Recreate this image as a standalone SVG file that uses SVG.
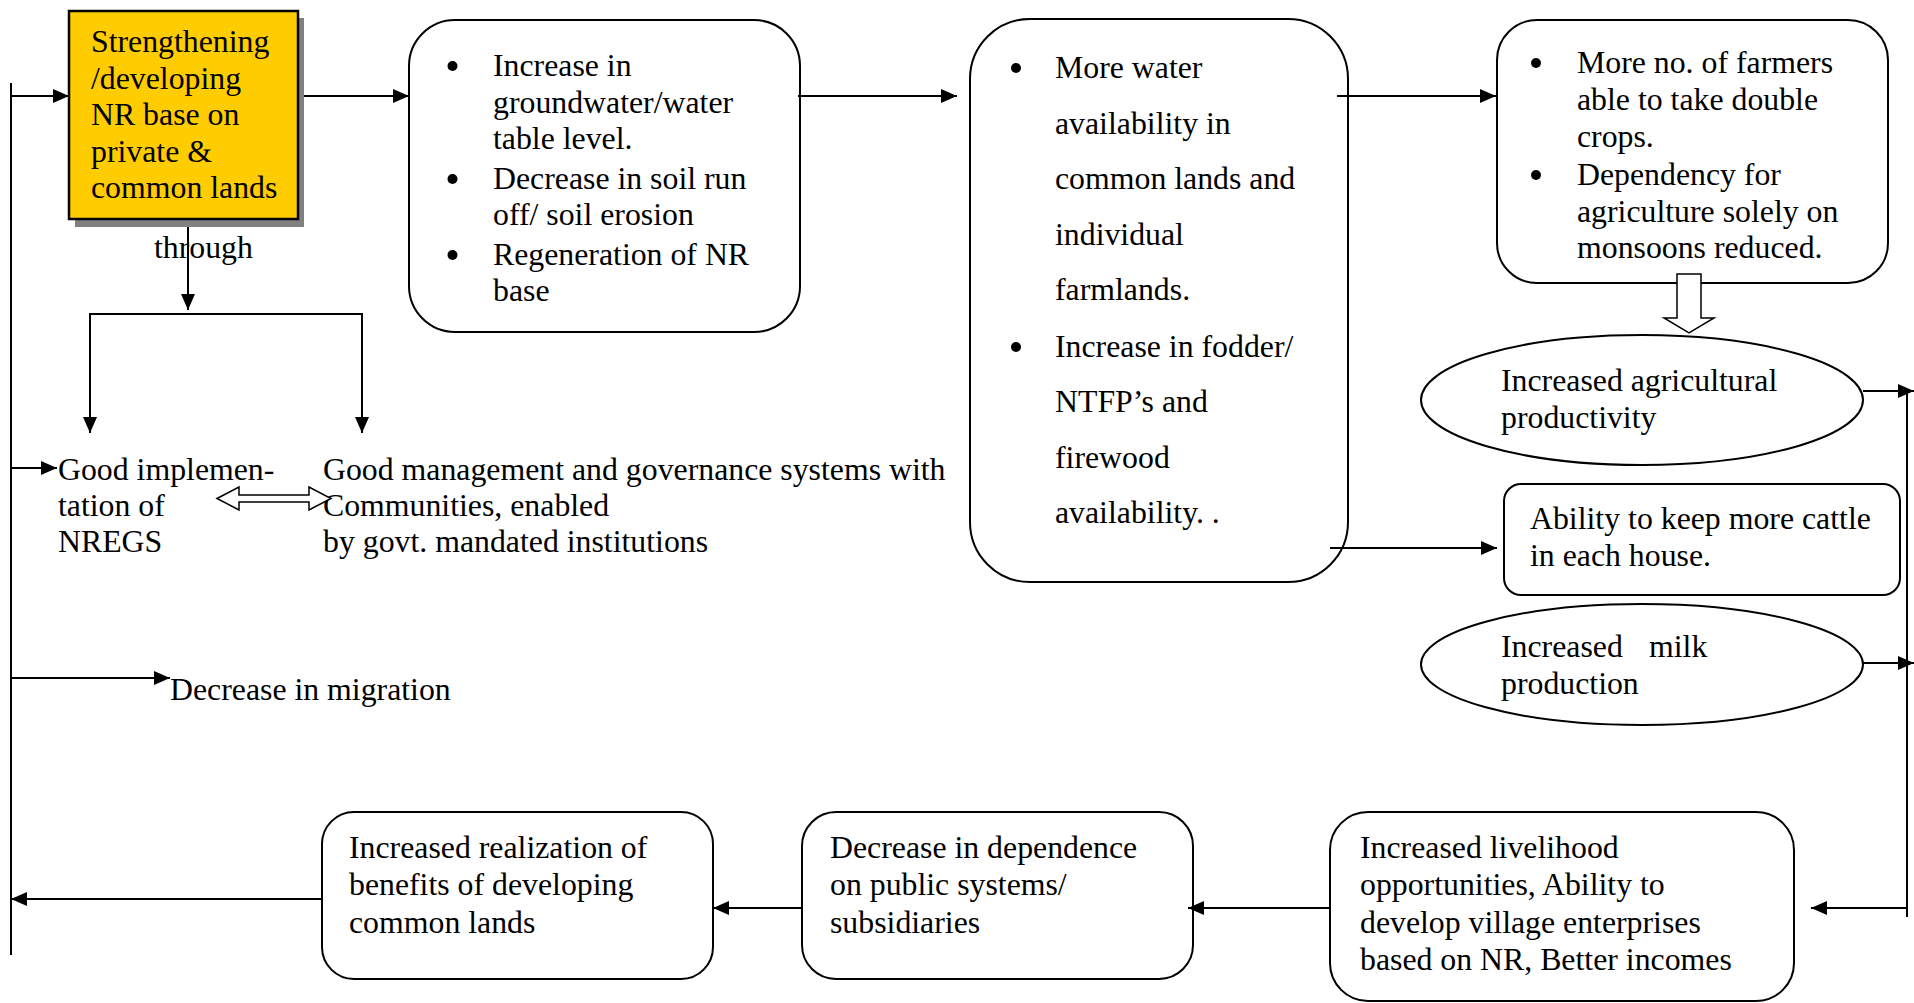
<svg xmlns="http://www.w3.org/2000/svg" width="1914" height="1003" viewBox="0 0 1914 1003">
<style>
text{font-family:"Liberation Serif","Times New Roman",serif;font-size:31.8px;fill:#000}
.box{fill:#fff;stroke:#000;stroke-width:2}
.ln{fill:none;stroke:#000;stroke-width:2}
.bul{fill:#000}
</style>
<defs>
<marker id="ah" markerUnits="userSpaceOnUse" markerWidth="16" markerHeight="14" refX="16" refY="7" orient="auto">
<path d="M0,0 L16,7 L0,14 z" fill="#000"/>
</marker>
</defs>
<rect width="1914" height="1003" fill="#fff"/>

<g id="node-strengthening">
<rect x="75" y="18" width="229" height="209" fill="#808080"/>
<rect x="69" y="11" width="229" height="208" fill="#FFCC00" stroke="#000" stroke-width="2.5"/>
<text x="91"><tspan x="91" y="52">Strengthening</tspan><tspan x="91" y="88.5">/developing</tspan><tspan x="91" y="125">NR base on</tspan><tspan x="91" y="161.5">private &amp;</tspan><tspan x="91" y="198">common lands</tspan></text>
</g>

<g id="label-through">
<text x="154" y="258">through</text>
</g>

<g id="node-groundwater">
<rect class="box" x="409" y="20" width="391" height="312" rx="46" ry="46"/>
<circle class="bul" cx="452.5" cy="66" r="5"/>
<circle class="bul" cx="452.5" cy="179" r="5"/>
<circle class="bul" cx="452.5" cy="255" r="5"/>
<text><tspan x="493" y="76">Increase in</tspan><tspan x="493" y="113">groundwater/water</tspan><tspan x="493" y="149">table level.</tspan><tspan x="493" y="189">Decrease in soil run</tspan><tspan x="493" y="225">off/ soil erosion</tspan><tspan x="493" y="265">Regeneration of NR</tspan><tspan x="493" y="301">base</tspan></text>
</g>

<g id="node-water">
<rect class="box" x="970" y="19" width="378" height="563" rx="60" ry="60"/>
<circle class="bul" cx="1016" cy="68" r="5"/>
<circle class="bul" cx="1016" cy="347" r="5"/>
<text><tspan x="1055" y="78">More water</tspan><tspan x="1055" y="134">availability in</tspan><tspan x="1055" y="189">common lands and</tspan><tspan x="1055" y="245">individual</tspan><tspan x="1055" y="300">farmlands.</tspan><tspan x="1055" y="357">Increase in fodder/</tspan><tspan x="1055" y="412">NTFP’s and</tspan><tspan x="1055" y="468">firewood</tspan><tspan x="1055" y="523">availability. .</tspan></text>
</g>

<g id="node-farmers">
<rect class="box" x="1497" y="20" width="391" height="263" rx="40" ry="40"/>
<circle class="bul" cx="1536" cy="63" r="5"/>
<circle class="bul" cx="1536" cy="175" r="5"/>
<text><tspan x="1577" y="73">More no. of farmers</tspan><tspan x="1577" y="110">able to take double</tspan><tspan x="1577" y="147">crops.</tspan><tspan x="1577" y="185">Dependency for</tspan><tspan x="1577" y="222">agriculture solely on</tspan><tspan x="1577" y="258">monsoons reduced.</tspan></text>
</g>

<g id="node-agri">
<ellipse class="box" cx="1642" cy="400" rx="221" ry="65"/>
<text><tspan x="1501" y="391">Increased agricultural</tspan><tspan x="1501" y="428">productivity</tspan></text>
</g>

<g id="node-cattle">
<rect class="box" x="1504" y="484" width="396" height="111" rx="17" ry="17"/>
<text><tspan x="1530" y="529">Ability to keep more cattle</tspan><tspan x="1530" y="566">in each house.</tspan></text>
</g>

<g id="node-milk">
<ellipse class="box" cx="1642" cy="664.5" rx="221" ry="60.5"/>
<text><tspan x="1501" y="657">Increased</tspan><tspan x="1649" y="657">milk</tspan><tspan x="1501" y="694">production</tspan></text>
</g>

<g id="node-implementation">
<text><tspan x="58" y="480">Good implemen-</tspan><tspan x="58" y="516">tation of</tspan><tspan x="58" y="552">NREGS</tspan></text>
</g>

<g id="node-management">
<text><tspan x="323" y="480">Good management and governance systems with</tspan><tspan x="323" y="516">Communities, enabled</tspan><tspan x="323" y="552">by govt. mandated institutions</tspan></text>
</g>

<g id="node-migration">
<text x="170" y="700">Decrease in migration</text>
</g>

<g id="node-livelihood">
<rect class="box" x="1330" y="812" width="464" height="189" rx="38" ry="38"/>
<text><tspan x="1360" y="858">Increased livelihood</tspan><tspan x="1360" y="895">opportunities, Ability to</tspan><tspan x="1360" y="933">develop village enterprises</tspan><tspan x="1360" y="970">based on NR, Better incomes</tspan></text>
</g>

<g id="node-dependence">
<rect class="box" x="802" y="812" width="391" height="167" rx="34" ry="34"/>
<text><tspan x="830" y="858">Decrease in dependence</tspan><tspan x="830" y="895">on public systems/</tspan><tspan x="830" y="933">subsidiaries</tspan></text>
</g>

<g id="node-realization">
<rect class="box" x="322" y="812" width="391" height="167" rx="32" ry="32"/>
<text><tspan x="349" y="858">Increased realization of</tspan><tspan x="349" y="895">benefits of developing</tspan><tspan x="349" y="933">common lands</tspan></text>
</g>

<g id="connectors">
<line class="ln" x1="11" y1="83" x2="11" y2="955"/>
<line class="ln" x1="11" y1="96" x2="69" y2="96" marker-end="url(#ah)"/>
<line class="ln" x1="304" y1="96" x2="409" y2="96" marker-end="url(#ah)"/>
<line class="ln" x1="798" y1="96" x2="957" y2="96" marker-end="url(#ah)"/>
<line class="ln" x1="1337" y1="96" x2="1496" y2="96" marker-end="url(#ah)"/>
<line class="ln" x1="1330" y1="548" x2="1497" y2="548" marker-end="url(#ah)"/>
<line class="ln" x1="188" y1="227" x2="188" y2="310" marker-end="url(#ah)"/>
<polyline class="ln" points="90,420 90,314 362,314 362,420"/>
<line class="ln" x1="90" y1="320" x2="90" y2="433" marker-end="url(#ah)"/>
<line class="ln" x1="362" y1="320" x2="362" y2="433" marker-end="url(#ah)"/>
<line class="ln" x1="11" y1="468" x2="57" y2="468" marker-end="url(#ah)"/>
<line class="ln" x1="11" y1="678" x2="170" y2="678" marker-end="url(#ah)"/>
<polygon points="217,498.5 239,487 239,495 309,495 309,487 331,498.5 309,510 309,502 239,502 239,510" fill="#fff" stroke="#000" stroke-width="1.5"/>
<polygon points="1677,274 1701,274 1701,318 1714,318 1689,333 1664,318 1677,318" fill="#fff" stroke="#000" stroke-width="1.5"/>
<line class="ln" x1="1907" y1="393" x2="1907" y2="917"/>
<line class="ln" x1="1863" y1="391" x2="1914" y2="391" marker-end="url(#ah)"/>
<line class="ln" x1="1863" y1="663" x2="1914" y2="663" marker-end="url(#ah)"/>
<line class="ln" x1="1907" y1="908" x2="1811" y2="908" marker-end="url(#ah)"/>
<line class="ln" x1="1330" y1="908" x2="1188" y2="908" marker-end="url(#ah)"/>
<line class="ln" x1="802" y1="908" x2="713" y2="908" marker-end="url(#ah)"/>
<line class="ln" x1="322" y1="899" x2="11" y2="899" marker-end="url(#ah)"/>
</g>
</svg>
